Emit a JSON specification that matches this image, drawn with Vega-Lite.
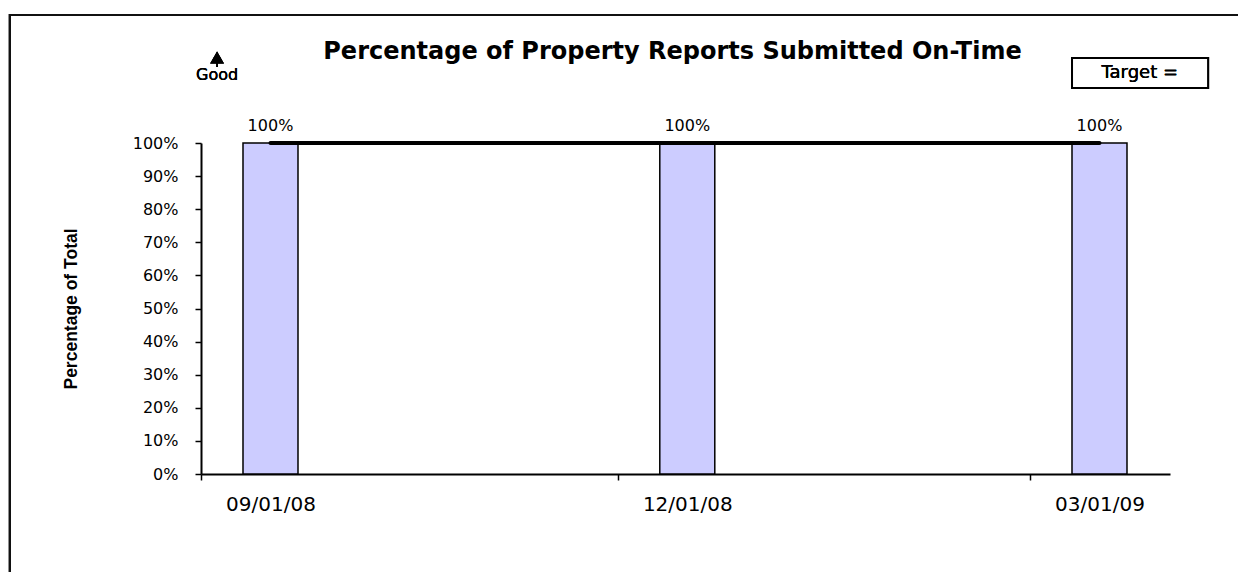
{
  "$schema": "https://vega.github.io/schema/vega-lite/v6.json",
  "width": 969,
  "height": 331,
  "autosize": {"type": "none"},
  "padding": {"left": 201, "top": 143, "right": 68, "bottom": 98},
  "background": "white",
  "config": {
    "view": {"stroke": null},
    "axis": {"labelFont": "DejaVu Sans", "labelColor": "#000", "domainColor": "#000", "tickColor": "#000", "grid": false, "labelOverlap": false},
    "text": {"font": "DejaVu Sans", "color": "#000"}
  },
  "title": {
    "text": "Percentage of Property Reports Submitted On-Time",
    "font": "DejaVu Sans",
    "fontSize": 24,
    "fontWeight": "bold",
    "color": "#000",
    "anchor": "middle",
    "frame": "group",
    "dx": -13,
    "dy": 54
  },
  "data": {
    "values": [
      {"date": "2008-09-01", "pct": 1.0, "target": 1.0},
      {"date": "2008-12-01", "pct": 1.0, "target": 1.0},
      {"date": "2009-03-01", "pct": 1.0, "target": 1.0}
    ]
  },
  "encoding": {
    "x": {
      "field": "date", "type": "temporal", "title": null,
      "scale": {"type": "utc", "padding": 0, "nice": false, "domain": [{"year": 2008, "month": 8, "date": 16, "hours": 19, "minutes": 49, "utc": true}, {"year": 2009, "month": 3, "date": 16, "hours": 9, "minutes": 26, "utc": true}]},
      "axis": {
        "values": [
          {"year": 2008, "month": 9, "date": 1, "utc": true},
          {"year": 2008, "month": 12, "date": 1, "utc": true},
          {"year": 2009, "month": 3, "date": 1, "utc": true}
        ],
        "labelExpr": "utcFormat(datum.value, '%m/%d/%y')",
        "labelFontSize": 20,
        "labelPadding": 14,
        "labelFlush": false,
        "labelOverlap": false,
        "tickOffset": -69.5,
        "labelOffset": 69.5,
        "tickSize": 6,
        "tickWidth": 1.5,
        "domainWidth": 2
      }
    },
    "y": {
      "field": "pct", "type": "quantitative", "title": "Percentage of Total",
      "scale": {"domain": [0, 1], "nice": false, "zero": true, "padding": 0},
      "axis": {
        "values": [0, 0.1, 0.2, 0.3, 0.4, 0.5, 0.6, 0.7, 0.8, 0.9, 1],
        "tickCount": 11,
        "format": ".0%",
        "labelFontSize": 16,
        "labelPadding": 17,
        "labelOverlap": false,
        "labelFlush": false,
        "tickSize": 6,
        "tickWidth": 1.5,
        "domainWidth": 2,
        "titleFont": "Liberation Sans",
        "titleFontSize": 17.5,
        "titleFontWeight": "bold",
        "titleColor": "#000",
        "titlePadding": 52
      }
    }
  },
  "layer": [
    {
      "mark": {"type": "bar", "size": 55, "color": "#CCCCFF", "stroke": "#000", "strokeWidth": 1.5}
    },
    {
      "mark": {"type": "line", "color": "#000", "strokeWidth": 4, "strokeCap": "round"},
      "encoding": {
        "y": {"field": "target", "type": "quantitative"}
      }
    },
    {
      "mark": {"type": "text", "fontSize": 16, "baseline": "alphabetic", "dy": -12},
      "encoding": {
        "text": {"field": "pct", "type": "quantitative", "format": ".0%"}
      }
    },
    {
      "mark": {"type": "rect", "fillOpacity": 0, "stroke": "#111", "strokeWidth": 2},
      "encoding": {
        "x": {"datum": {"year": 2008, "month": 7, "date": 6, "hours": 2, "utc": true}, "type": "temporal"},
        "x2": {"datum": {"year": 2009, "month": 6, "date": 1, "utc": true}},
        "y": {"datum": 1.3867, "type": "quantitative"},
        "y2": {"datum": -0.5}
      }
    },
    {
      "mark": {"type": "rule", "color": "#000", "strokeWidth": 1.5},
      "encoding": {
        "x": {"datum": {"year": 2008, "month": 8, "date": 20, "hours": 8, "utc": true}, "type": "temporal"},
        "y": {"datum": 1.2508, "type": "quantitative"},
        "y2": {"datum": 1.2296}
      }
    },
    {
      "mark": {"type": "point", "shape": "triangle-up", "filled": true, "color": "#000", "size": 190, "opacity": 1, "strokeWidth": 0},
      "encoding": {
        "x": {"datum": {"year": 2008, "month": 8, "date": 20, "hours": 8, "utc": true}, "type": "temporal"},
        "y": {"datum": 1.2583, "type": "quantitative"}
      }
    },
    {
      "mark": {"type": "text", "fontSize": 16, "baseline": "alphabetic", "align": "center"},
      "encoding": {
        "x": {"datum": {"year": 2008, "month": 8, "date": 20, "hours": 8, "utc": true}, "type": "temporal"},
        "y": {"datum": 1.19, "type": "quantitative"},
        "text": {"value": "Good"}
      }
    },
    {
      "mark": {"type": "rect", "fill": "white", "stroke": "#000", "strokeWidth": 2},
      "encoding": {
        "x": {"datum": {"year": 2009, "month": 2, "date": 23, "utc": true}, "type": "temporal"},
        "x2": {"datum": {"year": 2009, "month": 3, "date": 24, "hours": 17, "utc": true}},
        "y": {"datum": 1.2568, "type": "quantitative"},
        "y2": {"datum": 1.1662}
      }
    },
    {
      "mark": {"type": "text", "fontSize": 18, "baseline": "middle", "align": "center"},
      "encoding": {
        "x": {"datum": {"year": 2009, "month": 3, "date": 9, "hours": 19, "utc": true}, "type": "temporal"},
        "y": {"datum": 1.2115, "type": "quantitative"},
        "text": {"value": "Target ="}
      }
    }
  ]
}
